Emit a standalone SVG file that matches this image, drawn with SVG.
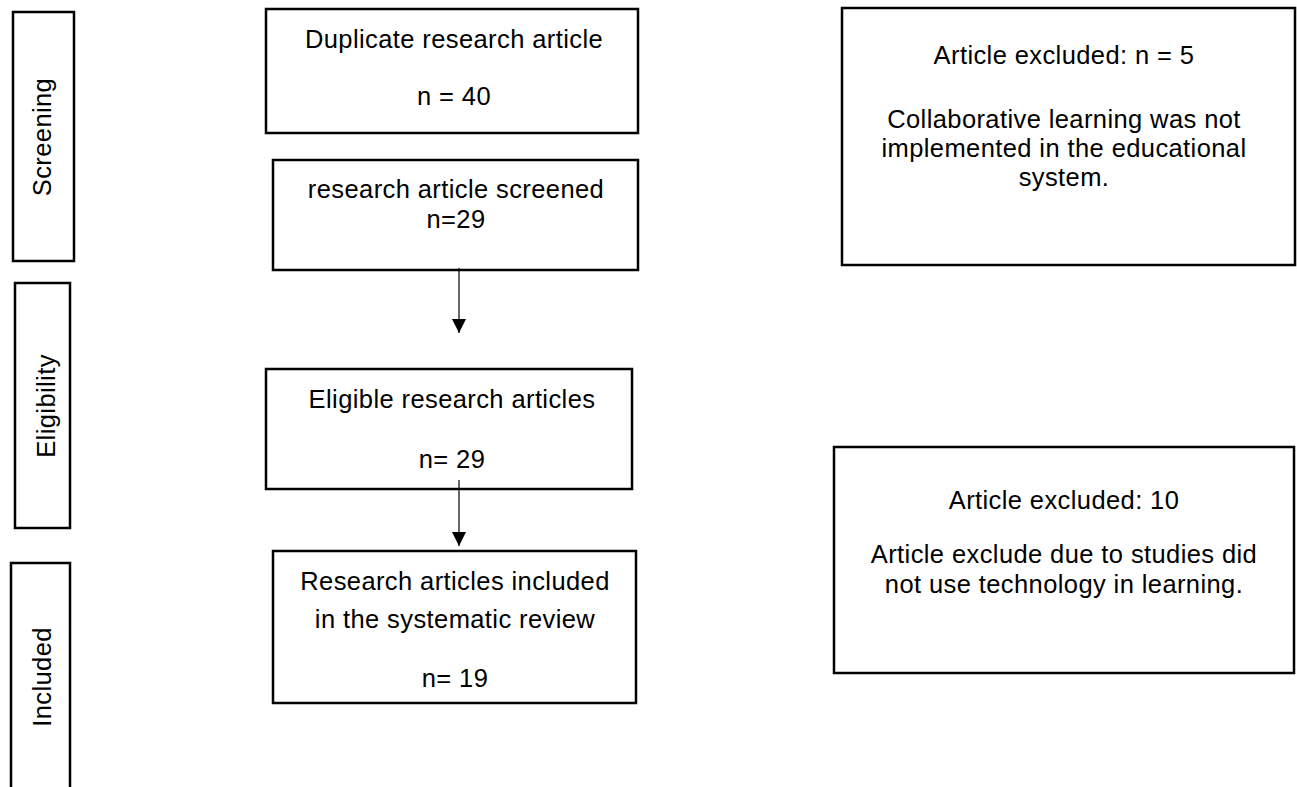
<svg xmlns="http://www.w3.org/2000/svg" width="1297" height="787" viewBox="0 0 1297 787">
<style>
.box{fill:#fff;stroke:#000;stroke-width:2.5}
.t{font-family:"Liberation Sans",Arial,sans-serif;font-size:25.5px;letter-spacing:0.4px;fill:#000;text-anchor:middle}
.c{stroke:#000;stroke-width:1.2;fill:none}
</style>
<defs>
<marker id="ah" markerWidth="14" markerHeight="16" refX="14" refY="7" orient="auto" markerUnits="userSpaceOnUse">
<path d="M0,0 L14,7 L0,14 z" fill="#000"/>
</marker>
</defs>
<rect width="1297" height="787" fill="#fff"/>
<g id="stage-screening">
<rect class="box" x="13" y="12" width="61" height="249"/>
<text class="t" transform="translate(51,137) rotate(-90)">Screening</text>
</g>
<g id="stage-eligibility">
<rect class="box" x="15" y="283" width="55" height="245"/>
<text class="t" transform="translate(55,406) rotate(-90)">Eligibility</text>
</g>
<g id="stage-included">
<rect class="box" x="11" y="563" width="59" height="240"/>
<text class="t" transform="translate(51,677) rotate(-90)">Included</text>
</g>
<g id="duplicate">
<rect class="box" x="266" y="9" width="372" height="124"/>
<text class="t" x="454" y="48">Duplicate research article</text>
<text class="t" x="454" y="105">n = 40</text>
</g>
<g id="screened">
<rect class="box" x="273" y="160" width="365" height="110"/>
<text class="t" x="456" y="198">research article screened</text>
<text class="t" x="456" y="228">n=29</text>
</g>
<g id="eligible">
<rect class="box" x="266" y="369" width="366" height="120"/>
<text class="t" x="452" y="408">Eligible research articles</text>
<text class="t" x="452" y="468">n= 29</text>
</g>
<g id="included">
<rect class="box" x="273" y="551" width="363" height="152"/>
<text class="t" x="455" y="590">Research articles included</text>
<text class="t" x="455" y="628">in the systematic review</text>
<text class="t" x="455" y="687">n= 19</text>
</g>
<g id="excluded1">
<rect class="box" x="842" y="8" width="453" height="257"/>
<text class="t" x="1064" y="64">Article excluded: n = 5</text>
<text class="t" x="1064" y="128">Collaborative learning was not</text>
<text class="t" x="1064" y="157">implemented in the educational</text>
<text class="t" x="1064" y="186">system.</text>
</g>
<g id="excluded2">
<rect class="box" x="834" y="447" width="460" height="226"/>
<text class="t" x="1064" y="509">Article excluded: 10</text>
<text class="t" x="1064" y="563">Article exclude due to studies did</text>
<text class="t" x="1064" y="593">not use technology in learning.</text>
</g>
<g id="connectors">
<line class="c" x1="459" y1="268" x2="459" y2="333" marker-end="url(#ah)"/>
<line class="c" x1="459" y1="480" x2="459" y2="546" marker-end="url(#ah)"/>
</g>
</svg>
